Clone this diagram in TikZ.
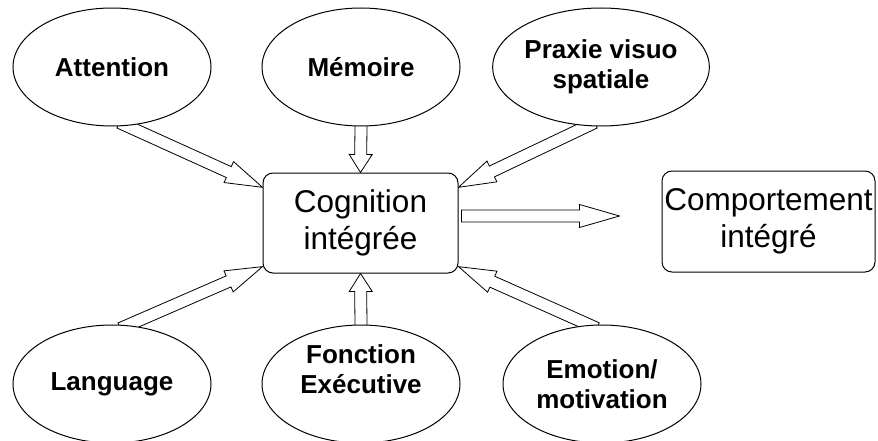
\documentclass[tikz,border=0pt]{standalone}
\usepackage{fontspec}
\setmainfont{Liberation Sans}
\usetikzlibrary{shapes.geometric,calc}
\pgfdeclarelayer{background}
\pgfsetlayers{background,main}

\newcommand{\shaftw}{6pt}
\newcommand{\headw}{11.5pt}
% hollow block arrow: [tail inset]{from}{to}{head length}
\newcommand{\fatarrow}[4][8pt]{%
  \coordinate (fa-a) at ($(#2)!-#1!(#3)$);
  \coordinate (fa-h) at ($(#3)!#4!(#2)$);
  \draw[fat] ($(fa-a)!\shaftw!90:(#3)$) -- ($(fa-h)!\shaftw!90:(#3)$)
    -- ($(fa-h)!\headw!90:(#3)$) -- (#3) -- ($(fa-h)!\headw!-90:(#3)$)
    -- ($(fa-h)!\shaftw!-90:(#3)$) -- ($(fa-a)!\shaftw!-90:(#3)$) -- cycle;
}

\tikzset{
  bubble/.style={ellipse, draw, fill=white, line width=1pt, minimum width=198pt,
    minimum height=118pt, inner sep=0pt, align=center,
    font=\bfseries\fontsize{26}{30}\selectfont},
  blocknode/.style={rectangle, rounded corners=10pt, draw, fill=white, line width=1pt,
    inner sep=0pt, align=center, font=\fontsize{31.5}{37}\selectfont},
  fat/.style={draw, fill=white, line width=0.8pt, line join=miter}
}

\begin{document}
\begin{tikzpicture}[x=1pt, y=1pt]
  \useasboundingbox (0,0) rectangle (878,440);

  \node[bubble] (att)  at (112,373) {Attention};
  \node[bubble] (mem)  at (361,373) {Mémoire};
  \node[bubble] (prax) at (601,373) {Praxie visuo\\spatiale};
  \node[bubble] (lang) at (112,56) {Language};
  \node[bubble, label={[align=center, font=\bfseries\fontsize{26}{30}\selectfont,
    yshift=15pt]center:Fonction\\Exécutive}] (fonc) at (361,56) {};
  \node[bubble] (emo)  at (602,56) {Emotion/\\motivation};

  \node[blocknode, minimum width=195pt, minimum height=100pt] (cog) at (360.5,217)
    {Cognition\\intégrée};
  \node[blocknode, minimum width=213pt, minimum height=101pt] (comp) at (768.5,218.5)
    {Comportement\\intégré};

  \coordinate (cogout) at ($(cog.east)+(3,7)$);
  \coordinate (compin) at ($(comp.west)+(-42,5.5)$);

  \begin{pgfonlayer}{background}
    \fatarrow{att.-76}{cog.160}{37pt}
    \fatarrow{mem.south}{cog.north}{18pt}
    \fatarrow{prax.-103}{cog.20}{37pt}
    \fatarrow{lang.75}{cog.204}{37pt}
    \fatarrow{fonc.north}{cog.south}{18pt}
    \fatarrow{emo.102}{cog.-24}{37pt}
  \end{pgfonlayer}
  \fatarrow[0pt]{cogout}{compin}{40pt}
\end{tikzpicture}
\end{document}
